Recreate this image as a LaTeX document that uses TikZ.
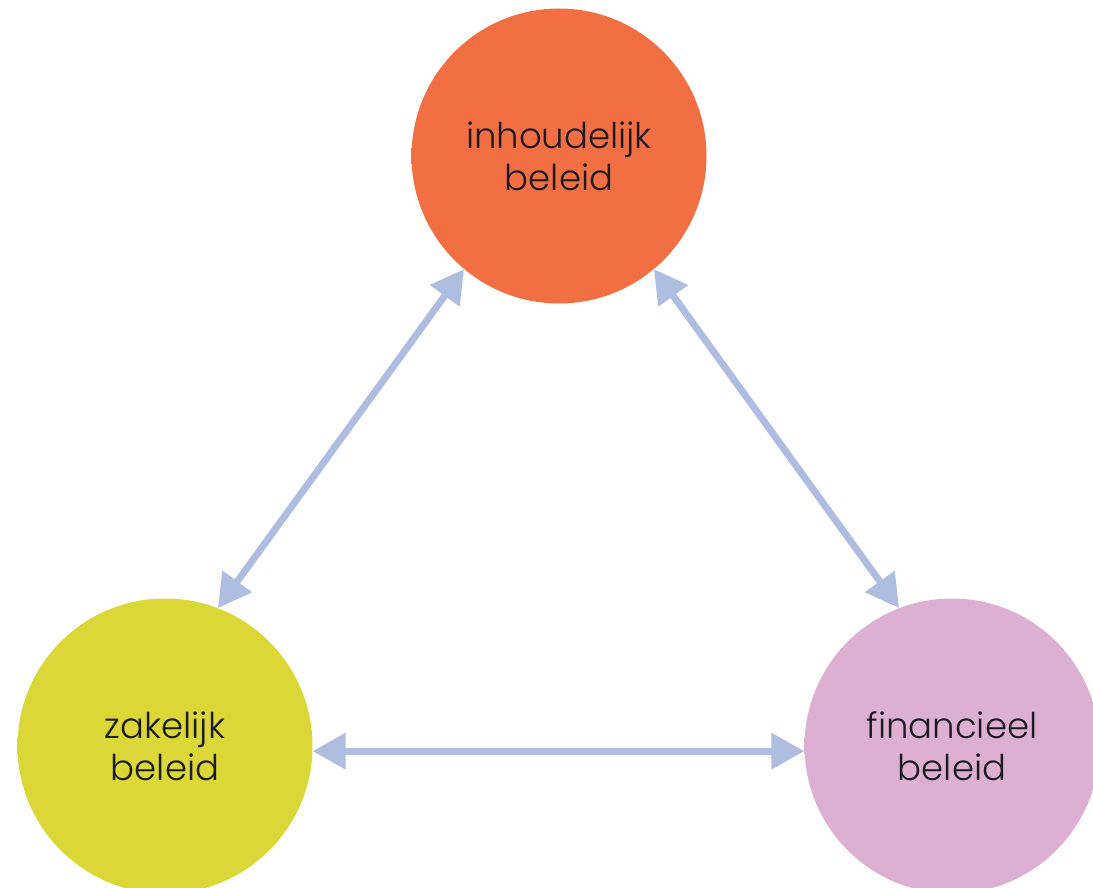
\documentclass[tikz,border=0pt]{standalone}
\usepackage{xcolor}
\usepackage{fontspec}
\setmainfont{Poppins}[UprightFont={* Light}]
\usetikzlibrary{arrows.meta,positioning,calc}

\definecolor{inhoudkleur}{HTML}{F26F43}
\definecolor{zakelijkkleur}{HTML}{DAD737}
\definecolor{financkleur}{HTML}{DDB0D1}
\definecolor{pijlkleur}{HTML}{AFBDE0}
\definecolor{tekstkleur}{HTML}{1C1A22}

% lichte rand langs de cirkels
\pgfdeclareradialshading{inhoudrand}{\pgfpoint{0bp}{0bp}}{color(0bp)=(inhoudkleur); color(43bp)=(inhoudkleur); color(50bp)=(inhoudkleur!82!white)}
\pgfdeclareradialshading{zakelijkrand}{\pgfpoint{0bp}{0bp}}{color(0bp)=(zakelijkkleur); color(43bp)=(zakelijkkleur); color(50bp)=(zakelijkkleur!85!white)}
\pgfdeclareradialshading{financrand}{\pgfpoint{0bp}{0bp}}{color(0bp)=(financkleur); color(43bp)=(financkleur); color(50bp)=(financkleur!88!white)}

\begin{document}
\begin{tikzpicture}[x=1pt, y=-1pt]
            \tikzset{
                beleid/.style={circle, minimum size=295pt, inner sep=0pt, align=center,
                        text=tekstkleur, font=\fontsize{35.5}{42}\selectfont},
                link/.style={{Triangle[length=33pt,width=35pt]}-{Triangle[length=33pt,width=35pt]},
                        line width=7pt, draw=pijlkleur}
            }
            \useasboundingbox (0,0) rectangle (1093,888);
            \clip (0,0) rectangle (1093,888);

            % ---- CIRCLES ----
            \node[beleid, shading=inhoudrand] (inhoud) at (559,156) {inhoudelijk\\beleid};
            \node[beleid, shading=zakelijkrand] (zakelijk) at (165,746) {zakelijk\\beleid};
            \node[beleid, shading=financrand] (financ) at (952,746) {financieel\\beleid};

            % ---- ARROWS ----
            \draw[link] (inhoud.230) -- (zakelijk.69);
            \draw[link] (inhoud.310) -- (financ.111);
            \draw[link] (zakelijk.-2.5) -- (financ.182.5);

        \end{tikzpicture}
\end{document}
